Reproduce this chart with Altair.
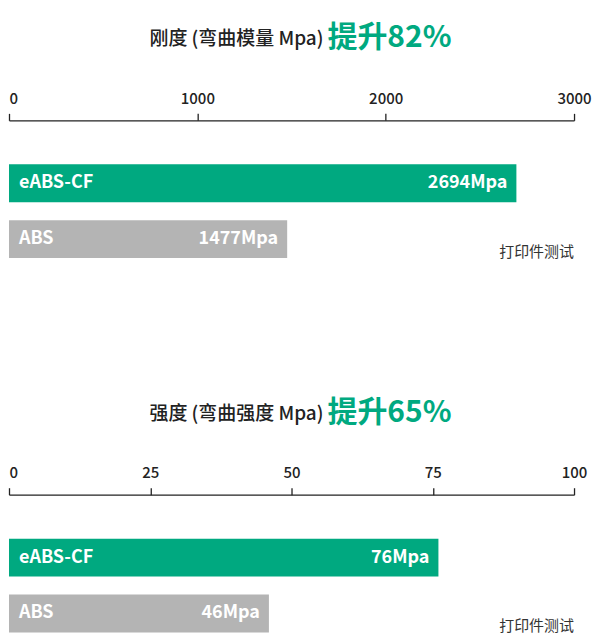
import altair as alt
import pandas as pd

materials = ["eABS-CF", "ABS"]
stiffness = [2694, 1477]
strength = [76, 46]
stiff_ticks = [0, 1000, 2000, 3000]
strength_ticks = [0, 25, 50, 75, 100]
titles_black = ["刚度 (弯曲模量 Mpa)", "强度 (弯曲强度 Mpa)"]
titles_green = ["提升82%", "提升65%"]
note = "打印件测试"
unit = "Mpa"

GREEN = "#00A980"
GRAY = "#B4B4B4"
FONT = "Noto Sans CJK SC"
W = 566
H = 138


def panel(values, domain_max, ticks, tblack, tgreen):
    df = pd.DataFrame({
        "material": materials,
        "value": values,
        "zero": [0, 0],
        "label": [f"{v}{unit}" for v in values],
        "color": [GREEN, GRAY],
    })
    y = alt.Y("material:N", sort=materials, axis=None,
              scale=alt.Scale(range=[44, 138], paddingInner=0.32, paddingOuter=0))
    x_scale = alt.Scale(domain=[0, domain_max], nice=False)
    base = alt.Chart(df)
    bars = base.mark_bar(cornerRadius=0).encode(
        x=alt.X("value:Q", scale=x_scale,
                axis=alt.Axis(orient="top", values=ticks, title=None, grid=False, format="d",
                              domain=True, domainColor="#222222", domainWidth=1.3,
                              ticks=True, tickColor="#222222", tickSize=7, tickWidth=1.3,
                              labelFont=FONT, labelFontSize=15, labelFontWeight=500,
                              labelColor="#222222", labelPadding=7,
                              labelAlign={"expr": "datum.value === 0 ? 'left' : 'center'"})),
        y=y,
        color=alt.Color("color:N", scale=None),
    )
    names = base.mark_text(align="left", baseline="middle", dx=10, font=FONT,
                           fontSize=18, fontWeight="bold", color="white").encode(
        x=alt.X("zero:Q", scale=x_scale), y=y, text="material:N",
    )
    vals = base.mark_text(align="right", baseline="middle", dx=-9, font=FONT,
                          fontSize=18, fontWeight="bold", color="white").encode(
        x=alt.X("value:Q", scale=x_scale), y=y, text="label:N",
    )
    note_df = pd.DataFrame({"material": ["ABS"], "pos": [domain_max], "t": [note]})
    notes = alt.Chart(note_df).mark_text(align="right", baseline="middle", dy=13,
                                         font=FONT, fontSize=15, color="#333333").encode(
        x=alt.X("pos:Q", scale=x_scale), y=y, text="t:N",
    )
    title_df = pd.DataFrame({"t1": [tblack], "t2": [tgreen]})
    t1 = alt.Chart(title_df).mark_text(align="right", baseline="middle", font=FONT,
                                       fontSize=19, fontWeight=500, color="#222222").encode(
        x=alt.value(W / 2 + 32), y=alt.value(-81), text="t1:N")
    t2 = alt.Chart(title_df).mark_text(align="left", baseline="middle", font=FONT,
                                       fontSize=30, fontWeight="bold", color=GREEN).encode(
        x=alt.value(W / 2 + 36), y=alt.value(-82), text="t2:N")
    return alt.layer(bars, names, vals, notes, t1, t2).properties(width=W, height=H)


top = panel(stiffness, 3000, stiff_ticks, titles_black[0], titles_green[0])
bottom = panel(strength, 100, strength_ticks, titles_black[1], titles_green[1])

chart = alt.vconcat(top, bottom, spacing=138).properties(
    padding={"left": 0, "top": 15, "right": 0, "bottom": 0}
).configure_view(stroke=None)

chart.save("out.html", embed_options={"renderer": "svg", "actions": False})
